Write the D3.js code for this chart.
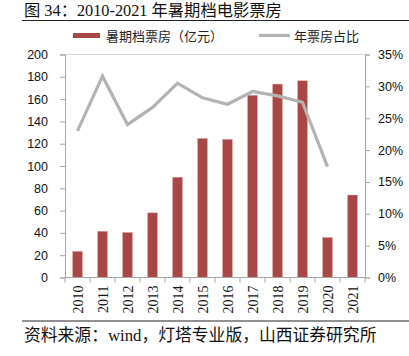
<!DOCTYPE html>
<html><head><meta charset="utf-8">
<script src="https://cdn.jsdelivr.net/npm/d3@7"></script>
<style>
html,body{margin:0;padding:0;background:#fff;}
svg{display:block;}
</style></head>
<body>
<svg id="chart" width="409" height="356"></svg>
<script>
const years = ["2010","2011","2012","2013","2014","2015","2016","2017","2018","2019","2020","2021"];
const boxOffice = [23.5, 41.5, 40.5, 58, 90, 124.8, 124, 163.5, 173.5, 176.5, 36, 74];
const share = [23.0, 31.6, 24.0, 26.7, 30.5, 28.2, 27.2, 29.2, 28.5, 27.5, 17.4, null];
const leftTicks = [0,20,40,60,80,100,120,140,160,180,200];
const rightTicks = [0,5,10,15,20,25,30,35];
const titleText = "图 34：2010-2021 年暑期档电影票房";
const sourceText = "资料来源：wind，灯塔专业版，山西证券研究所";
const legendBar = "暑期档票房（亿元）";
const legendLine = "年票房占比";

const svg = d3.select("#chart");
const L = 65, R = 365, T = 54.5, B = 277.5;
const barColor = "#a84745", lineColor = "#b3b3b3", axisColor = "#a6a6a6";
const cjk = "'Noto Sans CJK SC', sans-serif";
const serif = "'Liberation Serif', 'Noto Sans CJK SC', serif";
const sans = "'Liberation Sans', Arial, sans-serif";

const xc = d3.scaleBand().domain(years).range([L, R]);
const y = d3.scaleLinear().domain([0,200]).range([B, T]);
const y2 = d3.scaleLinear().domain([0,35]).range([B, T]);

// title
svg.append("text").attr("x", 24).attr("y", 16).attr("font-family", serif)
  .attr("font-size", 16.3).attr("fill", "#111").text(titleText);
svg.append("line").attr("x1", 22).attr("x2", 409).attr("y1", 20.5).attr("y2", 20.5)
  .attr("stroke", "#222").attr("stroke-width", 1);

// top border line
svg.append("line").attr("x1", L).attr("x2", R).attr("y1", T).attr("y2", T)
  .attr("stroke", "#d4d4d4").attr("stroke-width", 1.2);

// bars
svg.append("g").selectAll("rect").data(years).join("rect")
  .attr("x", d => xc(d) + (xc.bandwidth() - 10) / 2)
  .attr("width", 10)
  .attr("y", (d,i) => y(boxOffice[i]))
  .attr("height", (d,i) => B - y(boxOffice[i]))
  .attr("fill", barColor).attr("stroke", "#e8b8b6").attr("stroke-width", 0.5);

// line
const lineGen = d3.line().defined(d => d.v != null)
  .x(d => xc(d.k) + xc.bandwidth() / 2).y(d => y2(d.v));
svg.append("path").datum(years.map((k,i) => ({k, v: share[i]})))
  .attr("d", lineGen).attr("fill", "none").attr("stroke", lineColor)
  .attr("stroke-width", 3.2).attr("stroke-linejoin", "miter");

// left axis
const la = svg.append("g").attr("transform", `translate(${L},0)`)
  .call(d3.axisLeft(y).tickValues(leftTicks).tickSize(5).tickPadding(12));
la.select(".domain").attr("stroke", axisColor);
la.selectAll(".tick line").attr("stroke", axisColor);
la.selectAll("text").attr("font-family", sans).attr("font-size", 12.5).attr("fill", "#111");

// right axis
const ra = svg.append("g").attr("transform", `translate(${R},0)`)
  .call(d3.axisRight(y2).tickValues(rightTicks).tickSize(5).tickPadding(8).tickFormat(d => d + "%"));
ra.select(".domain").attr("stroke", axisColor);
ra.selectAll(".tick line").attr("stroke", axisColor);
ra.selectAll("text").attr("font-family", sans).attr("font-size", 12.5).attr("fill", "#111");

// bottom axis
const ba = svg.append("g").attr("transform", `translate(0,${B})`);
ba.append("line").attr("x1", L).attr("x2", R).attr("stroke", axisColor);
ba.selectAll("line.tk").data(d3.range(years.length + 1)).join("line").attr("class", "tk")
  .attr("x1", i => L + i * xc.step()).attr("x2", i => L + i * xc.step())
  .attr("y1", 0).attr("y2", 5).attr("stroke", axisColor);
ba.selectAll("text").data(years).join("text")
  .attr("transform", d => `translate(${xc(d) + xc.bandwidth()/2 + 5},8) rotate(-90)`)
  .attr("text-anchor", "end").attr("font-family", serif).attr("font-size", 14)
  .attr("fill", "#111").text(d => d);

// legend
svg.append("rect").attr("x", 73).attr("y", 33).attr("width", 27).attr("height", 5).attr("fill", barColor);
svg.append("text").attr("x", 106).attr("y", 41).attr("font-family", cjk).attr("font-size", 13)
  .attr("fill", "#222").text(legendBar);
svg.append("line").attr("x1", 259).attr("x2", 290).attr("y1", 35.5).attr("y2", 35.5)
  .attr("stroke", lineColor).attr("stroke-width", 3.2);
svg.append("text").attr("x", 294).attr("y", 41).attr("font-family", cjk).attr("font-size", 13)
  .attr("fill", "#222").text(legendLine);

// footer
svg.append("line").attr("x1", 22).attr("x2", 409).attr("y1", 321).attr("y2", 321)
  .attr("stroke", "#222").attr("stroke-width", 1);
svg.append("text").attr("x", 24).attr("y", 341).attr("font-family", serif)
  .attr("font-size", 16.8).attr("fill", "#111").text(sourceText);
</script>
</body></html>
